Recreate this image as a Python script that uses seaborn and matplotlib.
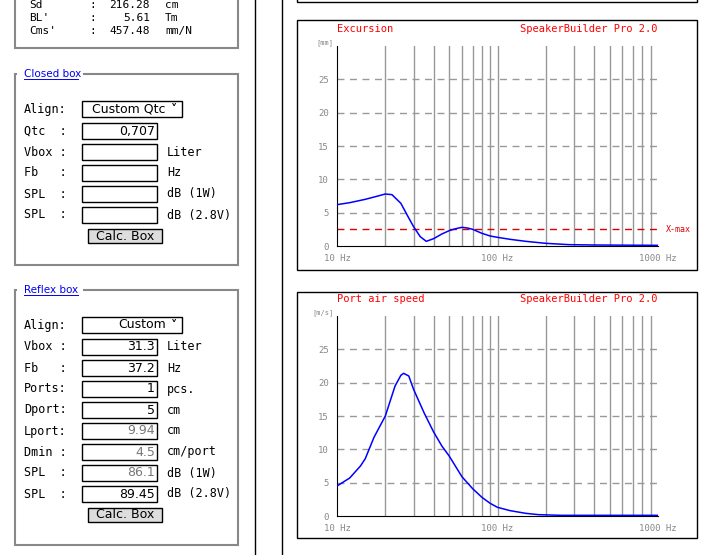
import numpy as np
import pandas as pd
import matplotlib
matplotlib.use("Agg")
import matplotlib.pyplot as plt
import seaborn as sns
from matplotlib.patches import Rectangle

# === Data ===
exc_freq = [10, 12, 15, 18, 20, 22, 25, 28, 30, 33, 36, 40, 45, 50, 55, 60, 65, 70, 80, 90, 100, 120, 150, 200, 280, 400, 1000]
exc_mm = [6.2, 6.5, 7.0, 7.5, 7.8, 7.7, 6.4, 4.2, 2.9, 1.4, 0.7, 1.1, 1.8, 2.3, 2.6, 2.8, 2.7, 2.5, 1.9, 1.5, 1.3, 1.0, 0.7, 0.4, 0.2, 0.15, 0.1]
xmax_mm = 2.5

port_freq = [10, 12, 14, 15, 17, 20, 23, 25, 26, 28, 30, 35, 40, 45, 50, 60, 70, 80, 90, 100, 120, 150, 180, 250, 1000]
port_ms = [4.5, 5.7, 7.5, 8.6, 11.8, 15.0, 19.5, 21.1, 21.4, 21.0, 19.0, 15.4, 12.6, 10.5, 9.0, 5.9, 4.1, 2.8, 1.9, 1.3, 0.8, 0.4, 0.2, 0.1, 0.1]

grid_freqs = [20, 30, 40, 50, 60, 70, 80, 90, 100, 200, 300, 400, 500, 600, 700, 800, 900]
y_ticks = [0, 5, 10, 15, 20, 25]

driver_rows = [("Sd", "216.28", "cm"), ("BL'", "5.61", "Tm"), ("Cms'", "457.48", "mm/N")]
closed_rows = [("Qtc  :", "0,707", ""), ("Vbox :", "", "Liter"), ("Fb   :", "", "Hz"),
               ("SPL  :", "", "dB (1W)"), ("SPL  :", "", "dB (2.8V)")]
reflex_rows = [("Vbox :", "31.3", "Liter"), ("Fb   :", "37.2", "Hz"), ("Ports:", "1", "pcs."),
               ("Dport:", "5", "cm"), ("Lport:", "9.94", "cm"), ("Dmin :", "4.5", "cm/port"),
               ("SPL  :", "86.1", "dB (1W)"), ("SPL  :", "89.45", "dB (2.8V)")]
reflex_grey = [False, False, False, False, True, True, True, False]

W, H = 719, 555
MONO = "DejaVu Sans Mono"
fig = plt.figure(figsize=(W / 100, H / 100), dpi=100)

# === Page background (pixel coordinates) ===
bg = fig.add_axes([0, 0, 1, 1])
bg.set_xlim(0, W)
bg.set_ylim(H, 0)
bg.axis("off")

def box(x0, y0, x1, y1, ec="black", fc="white", lw=1.0):
    bg.add_patch(Rectangle((x0, y0), x1 - x0, y1 - y0, ec=ec, fc=fc, lw=lw))

# driver box (top, clipped)
box(15, -10, 238, 48, ec="#888888", lw=1.5)
for i, (lab, val, unit) in enumerate(driver_rows):
    y = 5 + 13 * i
    bg.text(29, y, lab, family=MONO, fontsize=8, va="center")
    bg.text(89, y, ":", family=MONO, fontsize=8, va="center")
    bg.text(150, y, val, family=MONO, fontsize=8, va="center", ha="right")
    bg.text(165, y, unit, family=MONO, fontsize=8, va="center")

def fieldset(y0, y1, title, rows, align_text, select_w, grey=None, btn_y=None):
    box(15, y0, 238, y1, ec="#888888", lw=1.5)
    bg.add_patch(Rectangle((17, y0 - 7), 66, 12, ec="none", fc="white"))
    bg.text(24, y0, title, color="#0000ee", fontsize=7.5, va="center")
    bg.plot([24, 78], [y0 + 5, y0 + 5], color="#0000ee", lw=0.7)
    ya = y0 + 35
    bg.text(24, ya, "Align:", family=MONO, fontsize=8.5, va="center")
    box(82, ya - 8, 82 + select_w, ya + 8)
    bg.text(82 + select_w - 16, ya, align_text, fontsize=9, va="center", ha="right")
    bg.text(82 + select_w - 5, ya, "\u02c5", fontsize=9, va="center", ha="right", fontweight="bold")
    for i, (lab, val, unit) in enumerate(rows):
        y = ya + 22 + 21 * i
        bg.text(24, y, lab, family=MONO, fontsize=8.5, va="center")
        box(82, y - 8, 157, y + 8)
        c = "#777777" if grey and grey[i] else "black"
        bg.text(155, y, val, fontsize=9, va="center", ha="right", color=c)
        bg.text(167, y, unit, family=MONO, fontsize=8.5, va="center")
    box(88, btn_y - 7, 162, btn_y + 7, fc="#dddddd")
    bg.text(125, btn_y, "Calc. Box", fontsize=9, va="center", ha="center")

fieldset(74, 265, "Closed box", closed_rows, "Custom Qtc", 100, btn_y=236)
fieldset(290, 545, "Reflex box", reflex_rows, "Custom", 100, grey=reflex_grey, btn_y=515)

bg.plot([255, 255], [0, H], color="black", lw=1)
bg.plot([282, 282], [0, H], color="black", lw=1)
box(297, -10, 697, 2)
box(297, 20, 697, 270)
box(297, 292, 697, 538)

# === Charts ===
def chart(top, bottom, freq, vals, title, unit, xmax=None):
    ax = fig.add_axes([337 / W, 1 - bottom / H, (658 - 337) / W, (bottom - top) / H])
    ax.set_xscale("log")
    ax.set_xlim(10, 1000)
    ax.set_ylim(0, 30)
    for f in grid_freqs:
        ax.axvline(f, color="#999999", lw=1, zorder=1)
    for y in y_ticks[1:]:
        ax.axhline(y, color="#999999", lw=1, ls=(0, (5, 4)), zorder=1)
    df = pd.DataFrame({"f": freq, "v": vals})
    sns.lineplot(data=df, x="f", y="v", ax=ax, color="#0000ff", lw=1.1, zorder=3)
    if xmax is not None:
        ax.axhline(xmax, color="#dd0000", lw=1, ls=(0, (5, 4)), zorder=2)
        ax.text(1.025, xmax, "X-max", transform=ax.get_yaxis_transform(), color="#dd0000",
                family=MONO, fontsize=6, va="center", clip_on=False)
    for s in ["top", "right"]:
        ax.spines[s].set_visible(False)
    for s in ["left", "bottom"]:
        ax.spines[s].set_color("black")
    ax.set_yticks(y_ticks)
    ax.set_yticklabels([str(t) for t in y_ticks], family=MONO, fontsize=6.5, color="#888888")
    ax.set_xticks([10, 100, 1000])
    ax.set_xticklabels(["10 Hz", "100 Hz", "1000 Hz"], family=MONO, fontsize=6.5, color="#888888")
    ax.minorticks_off()
    ax.tick_params(length=0, pad=6)
    ax.set_xlabel("")
    ax.set_ylabel("")
    ax.text(-0.01, 1.0, unit, transform=ax.transAxes, family=MONO, fontsize=5, color="#888888",
            ha="right", va="bottom")
    ax.text(0.0, 1.06, title, transform=ax.transAxes, family=MONO, fontsize=7.5, color="red", va="bottom")
    ax.text(1.0, 1.06, "SpeakerBuilder Pro 2.0", transform=ax.transAxes, family=MONO, fontsize=7.5,
            color="red", va="bottom", ha="right")
    return ax

chart(46, 246, exc_freq, exc_mm, "Excursion", "[mm]", xmax=xmax_mm)
chart(316, 516, port_freq, port_ms, "Port air speed", "[m/s]")

fig.savefig("out.png", dpi=100)
